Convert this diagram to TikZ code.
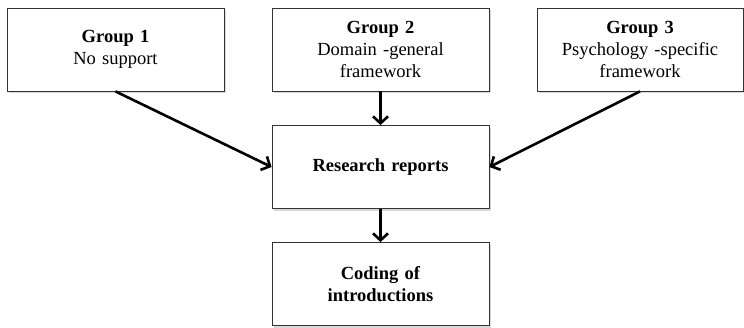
\documentclass[tikz,border=0pt]{standalone}
\usepackage{fontspec}
\setmainfont{Liberation Serif}
\usetikzlibrary{arrows.meta,shadows}

\begin{document}
\begin{tikzpicture}[x=1pt, y=-1pt,
    box/.style={draw=black!80, line width=0.8pt, fill=white,
                drop shadow={shadow xshift=1.5pt, shadow yshift=-2pt, opacity=0.3},
                minimum width=217pt, minimum height=83pt, inner sep=2pt,
                text width=210pt, align=center,
                font=\fontsize{18.5}{22}\selectfont},
    flow/.style={line width=2.6pt, -{Straight Barb[length=7pt, width=15pt, line width=2.6pt]}}]
    \useasboundingbox (0,0) rectangle (744,327);
    \node[box] (grpone) at (115.5,49.5) {\textbf{Group 1}\\No support};
    \node[box] (grptwo) at (380.5,49.5) {\textbf{Group 2}\\Domain -general\\framework};
    \node[box, minimum width=206pt, text width=202pt] (grpthree) at (640,49.5)
      {\textbf{Group 3}\\Psychology -specific\\framework};
    \node[box] (reports) at (380.5,167) {\textbf{Research reports}};
    \node[box] (coding) at (380.5,284) {\textbf{Coding of}\\\textbf{introductions}};
    % arrows into the reports box
    \draw[flow] (grpone.south) -- (reports.west);
    \draw[flow] (grpthree.south) -- (reports.east);
    \draw[flow] (grptwo) -- (reports);
    \draw[flow] (reports) -- (coding);
\end{tikzpicture}
\end{document}
